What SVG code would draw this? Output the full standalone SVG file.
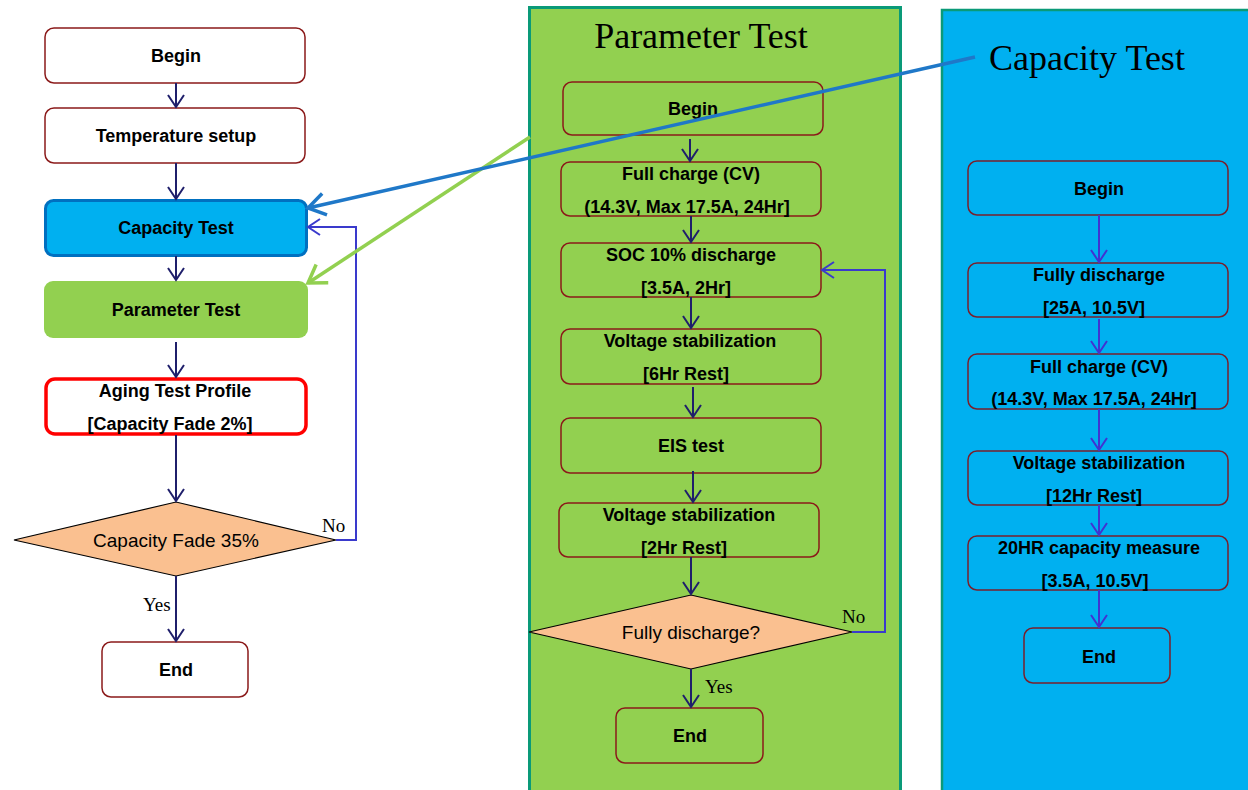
<svg xmlns="http://www.w3.org/2000/svg" width="1248" height="790" viewBox="0 0 1248 790">
  <style>
    .box { fill: #ffffff; stroke: #8b1a1a; stroke-width: 1.5; }
    .gbox { fill: #92d050; stroke: #8b1a1a; stroke-width: 1.5; }
    .bbox { fill: #00b0f0; stroke: #7a1f2b; stroke-width: 1.5; }
    .dia { fill: #fac090; stroke: #000000; stroke-width: 1.2; }
    .lbl { font-family: "Liberation Sans", Arial, sans-serif; font-weight: bold; font-size: 18px; fill: #000; text-anchor: middle; }
    .dlbl { font-family: "Liberation Sans", Arial, sans-serif; font-size: 19px; fill: #000; text-anchor: middle; }
    .yn { font-family: "Liberation Serif", "Times New Roman", serif; font-size: 19px; fill: #000; }
    .title { font-family: "Liberation Serif", "Times New Roman", serif; font-size: 36px; fill: #000; text-anchor: middle; }
    .navy { stroke: #1f1f6b; stroke-width: 2; fill: none; marker-end: url(#hNavy); }
    .violet { stroke: #4133d1; stroke-width: 2; fill: none; marker-end: url(#hViolet); }
    .loop { stroke: #3a3acc; stroke-width: 2; fill: none; marker-end: url(#hLoop); }
  </style>
  <defs>
    <marker id="hNavy" markerUnits="userSpaceOnUse" markerWidth="20" markerHeight="20" viewBox="0 0 20 20" refX="18" refY="10" orient="auto">
      <path d="M6,2 L18,10 L6,18" fill="none" stroke="#1f1f6b" stroke-width="2"/>
    </marker>
    <marker id="hViolet" markerUnits="userSpaceOnUse" markerWidth="20" markerHeight="20" viewBox="0 0 20 20" refX="18" refY="10" orient="auto">
      <path d="M6,2 L18,10 L6,18" fill="none" stroke="#4133d1" stroke-width="2"/>
    </marker>
    <marker id="hLoop" markerUnits="userSpaceOnUse" markerWidth="20" markerHeight="20" viewBox="0 0 20 20" refX="18" refY="10" orient="auto">
      <path d="M6,2 L18,10 L6,18" fill="none" stroke="#3a3acc" stroke-width="2"/>
    </marker>
    <marker id="hBlue" markerUnits="userSpaceOnUse" markerWidth="30" markerHeight="30" viewBox="0 0 30 30" refX="27" refY="15" orient="auto">
      <path d="M10,4 L27,15 L10,26" fill="none" stroke="#1f78c8" stroke-width="3.5"/>
    </marker>
    <marker id="hGreen" markerUnits="userSpaceOnUse" markerWidth="30" markerHeight="30" viewBox="0 0 30 30" refX="27" refY="15" orient="auto">
      <path d="M10,4 L27,15 L10,26" fill="none" stroke="#92d050" stroke-width="3.5"/>
    </marker>
  </defs>

  <rect width="1248" height="790" fill="#ffffff"/>

  <!-- Capacity Test panel -->
  <g id="panel-capacity">
    <rect x="942" y="10" width="320" height="790" fill="#00b0f0" stroke="#0a9a78" stroke-width="2.5"/>
    <text class="title" x="1087" y="70">Capacity Test</text>
  </g>

  <!-- Parameter Test panel -->
  <g id="panel-parameter">
    <rect x="529.5" y="7.5" width="371" height="790" fill="#92d050" stroke="#0a9a78" stroke-width="3"/>
    <text class="title" x="701" y="48">Parameter Test</text>
  </g>

  <!-- Main flow -->
  <g id="m-begin">
    <rect class="box" x="45" y="28" width="260" height="55" rx="9"/>
    <text class="lbl" x="176" y="62">Begin</text>
  </g>
  <g id="m-temp">
    <rect class="box" x="45" y="108" width="260" height="55" rx="9"/>
    <text class="lbl" x="176" y="142">Temperature setup</text>
  </g>
  <g id="m-capacity">
    <rect x="45.5" y="200.5" width="261" height="55" rx="8" fill="#00b0f0" stroke="#0070c0" stroke-width="3"/>
    <text class="lbl" x="176" y="234">Capacity Test</text>
  </g>
  <g id="m-parameter">
    <rect x="44" y="281" width="264" height="57" rx="9" fill="#92d050"/>
    <text class="lbl" x="176" y="316">Parameter Test</text>
  </g>
  <g id="m-aging">
    <rect x="46" y="379" width="260" height="55" rx="9" fill="#ffffff" stroke="#ff0000" stroke-width="3.5"/>
    <text class="lbl" x="175" y="397">Aging Test Profile</text>
    <text class="lbl" x="170" y="430">[Capacity Fade 2%]</text>
  </g>
  <g id="m-fade">
    <polygon class="dia" points="14,540 176,502 336,540 176,576"/>
    <text class="dlbl" x="176" y="547">Capacity Fade 35%</text>
  </g>
  <g id="m-end">
    <rect class="box" x="102" y="642" width="146" height="55" rx="9"/>
    <text class="lbl" x="176" y="676">End</text>
  </g>

  <!-- Parameter Test steps -->
  <g id="p-begin">
    <rect class="gbox" x="563" y="82" width="260" height="53" rx="9"/>
    <text class="lbl" x="693" y="115">Begin</text>
  </g>
  <g id="p-charge">
    <rect class="gbox" x="561" y="162" width="260" height="54" rx="9"/>
    <text class="lbl" x="691" y="180">Full charge (CV)</text>
    <text class="lbl" x="687" y="213">(14.3V, Max 17.5A, 24Hr]</text>
  </g>
  <g id="p-soc">
    <rect class="gbox" x="561" y="243" width="260" height="54" rx="9"/>
    <text class="lbl" x="691" y="261">SOC 10% discharge</text>
    <text class="lbl" x="686" y="294">[3.5A, 2Hr]</text>
  </g>
  <g id="p-rest6">
    <rect class="gbox" x="561" y="329" width="260" height="55" rx="9"/>
    <text class="lbl" x="690" y="347">Voltage stabilization</text>
    <text class="lbl" x="686" y="380">[6Hr Rest]</text>
  </g>
  <g id="p-eis">
    <rect class="gbox" x="561" y="418" width="260" height="55" rx="9"/>
    <text class="lbl" x="691" y="452">EIS test</text>
  </g>
  <g id="p-rest2">
    <rect class="gbox" x="559" y="503" width="260" height="54" rx="9"/>
    <text class="lbl" x="689" y="521">Voltage stabilization</text>
    <text class="lbl" x="684" y="554">[2Hr Rest]</text>
  </g>
  <g id="p-fully">
    <polygon class="dia" points="529,632 691,595 852,632 691,669"/>
    <text class="dlbl" x="691" y="639">Fully discharge?</text>
  </g>
  <g id="p-end">
    <rect class="gbox" x="616" y="708" width="147" height="55" rx="9"/>
    <text class="lbl" x="690" y="742">End</text>
  </g>

  <!-- Capacity Test steps -->
  <g id="c-begin">
    <rect class="bbox" x="968" y="161" width="260" height="54" rx="9"/>
    <text class="lbl" x="1099" y="195">Begin</text>
  </g>
  <g id="c-discharge">
    <rect class="bbox" x="968" y="263" width="260" height="54" rx="9"/>
    <text class="lbl" x="1099" y="281">Fully discharge</text>
    <text class="lbl" x="1094" y="314">[25A, 10.5V]</text>
  </g>
  <g id="c-charge">
    <rect class="bbox" x="968" y="354" width="260" height="55" rx="9"/>
    <text class="lbl" x="1099" y="373">Full charge (CV)</text>
    <text class="lbl" x="1094" y="405">(14.3V, Max 17.5A, 24Hr]</text>
  </g>
  <g id="c-rest">
    <rect class="bbox" x="968" y="451" width="260" height="54" rx="9"/>
    <text class="lbl" x="1099" y="469">Voltage stabilization</text>
    <text class="lbl" x="1094" y="502">[12Hr Rest]</text>
  </g>
  <g id="c-measure">
    <rect class="bbox" x="968" y="536" width="260" height="54" rx="9"/>
    <text class="lbl" x="1099" y="554">20HR capacity measure</text>
    <text class="lbl" x="1095" y="587">[3.5A, 10.5V]</text>
  </g>
  <g id="c-end">
    <rect class="bbox" x="1024" y="628" width="146" height="55" rx="9"/>
    <text class="lbl" x="1099" y="663">End</text>
  </g>

  <!-- Connectors -->
  <g id="connectors">
    <!-- main flow -->
    <line class="navy" x1="176" y1="83" x2="176" y2="107"/>
    <line class="navy" x1="176" y1="163" x2="176" y2="199"/>
    <line class="navy" x1="176" y1="256" x2="176" y2="280"/>
    <line class="navy" x1="176" y1="342" x2="176" y2="377"/>
    <line class="navy" x1="176" y1="435" x2="176" y2="501"/>
    <line class="navy" x1="176" y1="576" x2="176" y2="641"/>
    <polyline class="loop" points="336,540 356,540 356,227 308,227"/>
    <text class="yn" x="322" y="532">No</text>
    <text class="yn" x="143" y="611">Yes</text>

    <!-- parameter test flow -->
    <line class="navy" x1="690" y1="139" x2="690" y2="161"/>
    <line class="navy" x1="691" y1="216" x2="691" y2="242"/>
    <line class="navy" x1="691" y1="297" x2="691" y2="328"/>
    <line class="navy" x1="693" y1="387" x2="693" y2="417"/>
    <line class="navy" x1="693" y1="471" x2="693" y2="502"/>
    <line class="navy" x1="691" y1="557" x2="691" y2="594"/>
    <line class="navy" x1="691" y1="669" x2="691" y2="707"/>
    <polyline class="loop" points="852,632 885,632 885,270 822,270"/>
    <text class="yn" x="842" y="623">No</text>
    <text class="yn" x="705" y="693">Yes</text>

    <!-- capacity test flow -->
    <line class="violet" x1="1099" y1="215" x2="1099" y2="262"/>
    <line class="violet" x1="1099" y1="319" x2="1099" y2="353"/>
    <line class="violet" x1="1099" y1="409" x2="1099" y2="450"/>
    <line class="violet" x1="1099" y1="505" x2="1099" y2="535"/>
    <line class="violet" x1="1099" y1="590" x2="1099" y2="627"/>

    <!-- detail links -->
    <line x1="530" y1="137" x2="308" y2="283" stroke="#92d050" stroke-width="3.5" marker-end="url(#hGreen)"/>
    <line x1="975" y1="57" x2="308" y2="208" stroke="#1f78c8" stroke-width="3.5" marker-end="url(#hBlue)"/>
  </g>
</svg>
